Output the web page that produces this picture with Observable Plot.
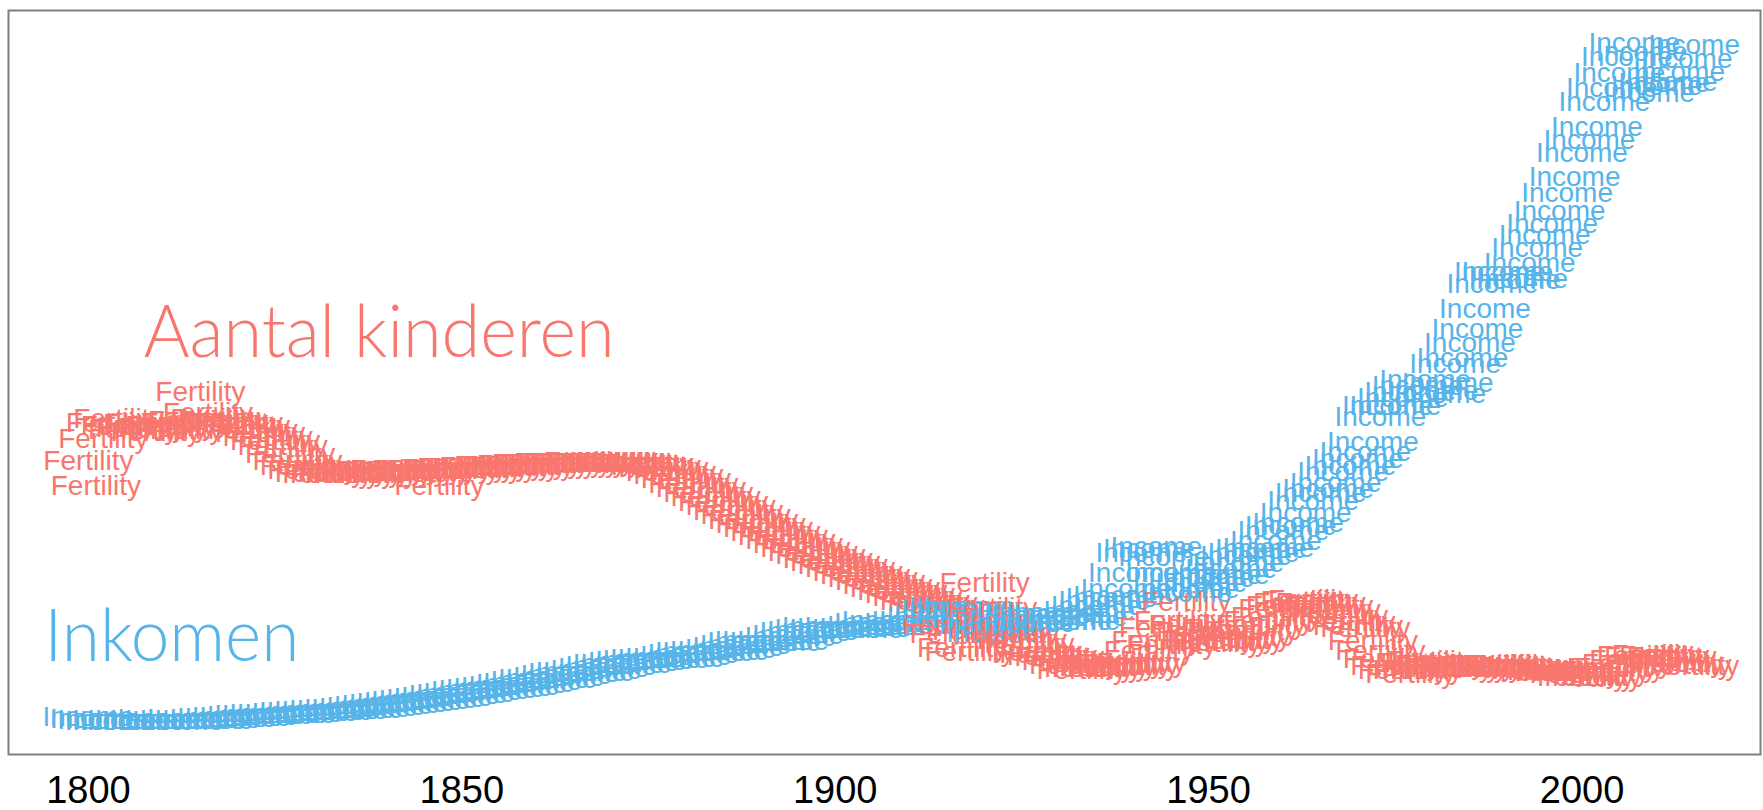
<!DOCTYPE html>
<html><head><meta charset="utf-8">
<script src="https://cdn.jsdelivr.net/npm/d3@7"></script>
<script src="https://cdn.jsdelivr.net/npm/@observablehq/plot@0.6"></script>
<style>html,body{margin:0;padding:0;background:#fff;} svg{display:block}</style>
</head><body><div id="chart"></div>
<script>
// ---- data ----
const startYear = 1800;
// children per woman, 1800..2015
const fertility = [
4.98,4.60,5.33,5.58,5.64,5.53,5.46,5.49,5.55,5.43,
5.50,5.53,5.46,5.58,5.61,6.05,5.72,5.64,5.61,5.55,
5.58,5.52,5.46,5.41,5.36,5.30,5.21,5.10,4.99,4.90,
4.84,4.80,4.78,4.79,4.81,4.78,4.80,4.82,4.79,4.83,
4.82,4.84,4.81,4.83,4.85,4.82,4.84,4.59,4.86,4.85,
4.87,4.88,4.86,4.89,4.88,4.90,4.91,4.89,4.92,4.91,
4.93,4.94,4.93,4.95,4.96,4.95,4.96,4.97,4.96,4.95,
4.96,4.95,4.96,4.95,4.94,4.93,4.91,4.87,4.82,4.76,
4.70,4.63,4.56,4.49,4.42,4.35,4.28,4.21,4.14,4.07,
4.00,3.94,3.88,3.82,3.76,3.70,3.64,3.58,3.52,3.47,
3.42,3.37,3.32,3.27,3.22,3.17,3.12,3.07,3.02,2.97,
2.92,2.87,2.82,2.78,2.73,2.45,2.30,2.08,2.02,2.35,
3.09,2.70,2.50,2.40,2.30,2.21,2.15,2.02,2.00,1.96,
1.95,1.88,1.82,1.74,1.77,1.77,1.79,1.81,1.84,1.84,
1.80,1.85,2.04,2.19,2.40,2.14,2.50,2.80,2.45,2.34,
2.21,2.16,2.18,2.22,2.21,2.25,2.35,2.44,2.51,2.57,
2.69,2.74,2.78,2.81,2.83,2.79,2.74,2.67,2.58,2.49,
2.43,2.40,2.20,2.04,1.91,1.81,1.74,1.69,1.75,1.86,
1.89,1.82,1.78,1.77,1.77,1.79,1.78,1.81,1.82,1.80,
1.83,1.82,1.79,1.76,1.74,1.71,1.73,1.72,1.71,1.68,
1.64,1.63,1.64,1.71,1.77,1.78,1.84,1.90,1.96,1.94,
1.98,1.97,1.94,1.85,1.83,1.81
];
// income per person (int. $), 1800..2015
const income = [
3220,3110,3060,3000,3050,3000,3010,3060,3000,3050,
3110,3060,3000,3060,3110,3020,3060,3110,3170,3160,
3220,3230,3280,3290,3340,3350,3390,3400,3450,3460,
3510,3530,3560,3580,3620,3640,3680,3720,3790,3840,
3900,3940,4000,4050,4120,4180,4230,4280,4340,4450,
4510,4570,4680,4740,4790,4850,4910,4960,5070,5130,
5250,5360,5340,5470,5590,5700,5750,5760,5870,5980,
6090,6200,6210,6320,6370,6430,6480,6470,6540,6530,
6650,6770,6880,6870,6940,6930,7050,7160,7270,7440,
7500,7490,7440,7500,7720,7830,8000,8060,8170,8280,
8170,8180,8280,8170,8230,8340,8510,8620,8340,8400,
8510,8620,8620,8850,8960,9240,9350,9410,9410,8730,
8400,7950,8170,8280,8510,8680,8510,8900,8960,9070,
9010,8620,8620,8850,9180,9460,9740,9910,10020,10420,
11320,12440,12670,12780,12220,11320,10420,10190,10420,10750,
11040,11210,11210,11540,11880,12270,12440,12660,12720,13120,
13680,13960,14130,14680,15360,15810,16030,16370,16990,17330,
17720,18110,18680,20080,20700,20700,21100,21440,21780,22120,
21500,21330,21950,23060,23400,24190,25030,26150,27560,28180,
28180,27730,27840,28740,29580,30260,30930,31660,32670,33520,
34870,35600,36330,37730,38520,39360,40260,41050,40540,38240,
38630,38800,38860,39420,40200,40940
];
const seriesNames = ["Fertility", "Income"];
const seriesColors = ["#F8766D", "#56B4E9"];
const titles = ["Aantal kinderen", "Inkomen"];
const titleSeries = ["Fertility", "Income"];
const titleYears = [1807.4, 1794.1];
const titleValues = [6.96, 7640];      // in each series' own units
const xTicks = [1800, 1850, 1900, 1950, 2000];
// each series is rescaled into a shared 0..1 band
const seriesRange = {Fertility: [0.961, 11.44], Income: [3000, 41000]};

// ---- build ----
const norm = (s, v) => (v - seriesRange[s][0]) / (seriesRange[s][1] - seriesRange[s][0]);
const rows = [];
fertility.forEach((f, i) => {
  const year = startYear + i;
  rows.push({year, series: "Fertility", value: norm("Fertility", f)});
  rows.push({year, series: "Income", value: norm("Income", income[i])});
});
const titleRows = titles.map((t, i) => ({label: t, series: titleSeries[i], year: titleYears[i], value: norm(titleSeries[i], titleValues[i])}));
const titleWidths = {"Aantal kinderen": 471, "Inkomen": 255};

const chart = Plot.plot({
  width: 1763,
  height: 810,
  marginTop: 10,
  marginBottom: 56,
  marginLeft: 8,
  marginRight: 3,
  style: {fontFamily: "'Liberation Sans', Arial, Helvetica, sans-serif", fontSize: "38px", color: "#000", background: "#fff"},
  x: {domain: [1789.3, 2023.9]},
  y: {domain: [-0.05, 1.05], axis: null},
  color: {domain: seriesNames, range: seriesColors},
  marks: [
    Plot.frame({stroke: "#7f7f7f", strokeWidth: 2}),
    Plot.text(rows, {x: "year", y: "value", text: "series", fill: "series", fontSize: 28,
      fontFamily: "'Liberation Sans', Arial, sans-serif"}),
    Plot.text(titleRows, {x: "year", y: "value", text: "label", fill: "series", fontSize: 72,
      textAnchor: "start", fontFamily: "Lato, 'Open Sans', sans-serif", fontWeight: 300}),
    Plot.axisX({ticks: xTicks, tickFormat: d => String(d), tickSize: 0, tickPadding: 22,
      fontSize: 38, label: null, fill: "#000"})
  ]
});
d3.select(chart).selectAll("text")
  .filter(function () { return titleWidths[this.textContent] !== undefined; })
  .attr("textLength", function () { return titleWidths[this.textContent]; })
  .attr("lengthAdjust", "spacingAndGlyphs");
document.getElementById("chart").appendChild(chart);
</script>
</body></html>
